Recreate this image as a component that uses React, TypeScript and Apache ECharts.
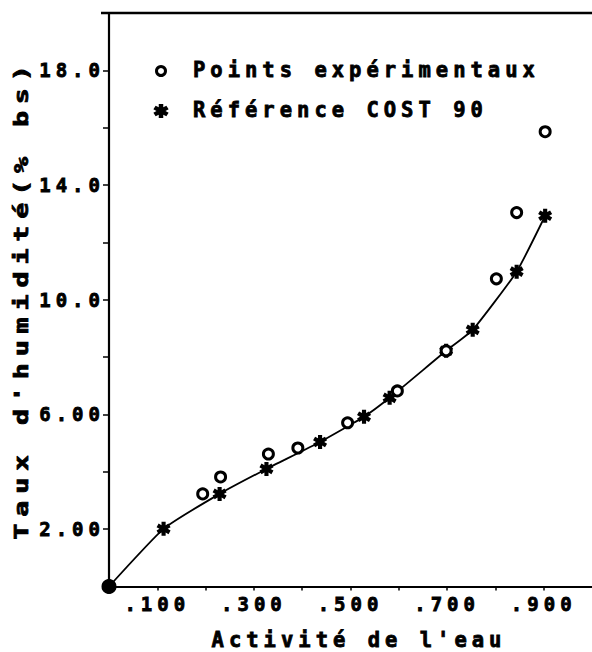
import React, { useEffect, useRef } from "react";
import * as echarts from "echarts";

// Experimental points (water activity, moisture % dry basis)
const expX = [0, 0.194, 0.231, 0.330, 0.391, 0.494, 0.597, 0.698, 0.802, 0.844, 0.903];
const expY = [0, 3.23, 3.82, 4.62, 4.83, 5.71, 6.82, 8.22, 10.73, 13.04, 15.86];

// COST 90 reference points
const refX = [0, 0.113, 0.229, 0.326, 0.437, 0.528, 0.581, 0.698, 0.753, 0.844, 0.903];
const refY = [0, 2.01, 3.23, 4.10, 5.04, 5.92, 6.58, 8.22, 8.95, 10.98, 12.93];

// Tick labels
const xLabelValues = [0.1, 0.3, 0.5, 0.7, 0.9];
const xLabelTexts = [".100", ".300", ".500", ".700", ".900"];
const yLabelValues = [2, 6, 10, 14, 18];
const yLabelTexts = ["2.00", "6.00", "10.0", "14.0", "18.0"];

const legendExp = "Points expérimentaux";
const legendRef = "Référence COST 90";
const xName = "Activité de l'eau";
const yName = "Taux d'humidité(% bs)";

const FONT = "'DejaVu Sans Mono', 'Liberation Mono', monospace";

function asteriskPoints(arms: number, L: number, w: number): number[][] {
  const pts: number[][] = [];
  const half = Math.PI / arms;
  const rIn = w / Math.sin(half);
  for (let k = 0; k < arms; k++) {
    const t = Math.PI / 2 + (k * 2 * Math.PI) / arms;
    const dx = Math.cos(t), dy = Math.sin(t);
    const px = -Math.sin(t), py = Math.cos(t);
    pts.push([L * dx - w * px, L * dy - w * py]);
    pts.push([L * dx + w * px, L * dy + w * py]);
    pts.push([rIn * Math.cos(t + half), rIn * Math.sin(t + half)]);
  }
  return pts.map(([x, y]) => [x, -y]);
}

const astPts = asteriskPoints(6, 1, 0.3);
const astPath =
  "path://" +
  astPts.map((p, i) => (i === 0 ? "M" : "L") + p[0].toFixed(3) + " " + p[1].toFixed(3)).join(" ") +
  " Z";

function labelFor(v: number, vals: number[], texts: string[]) {
  for (let i = 0; i < vals.length; i++) {
    if (Math.abs(v - vals[i]) < 1e-6) return texts[i];
  }
  return "";
}

const textBase = {
  fontFamily: FONT,
  fontWeight: "bold",
  fill: "#000",
  stroke: "#000",
  lineWidth: 0.8,
  verticalAlign: "middle",
};

export default function App() {
  const ref = useRef<HTMLDivElement>(null);
  useEffect(() => {
    if (!ref.current) return;
    const chart = echarts.init(ref.current, null, { renderer: "svg" });
    const refData = refX.map((x, i) => [x, refY[i]]);
    const expData = expX.map((x, i) =>
      i === 0
        ? { value: [x, expY[i]], symbolSize: 12, itemStyle: { color: "#000", borderColor: "#000" } }
        : { value: [x, expY[i]] }
    );
    const axisLabelBase = {
      color: "#000",
      fontFamily: FONT,
      fontWeight: "bold",
      fontSize: 19,
      textBorderColor: "#000",
      textBorderWidth: 0.8,
    };
    chart.setOption({
      animation: false,
      backgroundColor: "#fff",
      grid: { left: 109, top: 13, right: -11, bottom: 65.5, show: false },
      xAxis: {
        type: "value",
        min: 0,
        max: 1,
        interval: 0.1,
        axisLine: { show: true, onZero: false, lineStyle: { color: "#000", width: 2.2 } },
        axisTick: { show: true, inside: false, length: 4, lineStyle: { color: "#000", width: 1.5 } },
        splitLine: { show: false },
        axisLabel: {
          ...axisLabelBase,
          formatter: (v: number) => labelFor(v, xLabelValues, xLabelTexts),
          margin: 8,
          showMaxLabel: false,
        },
      },
      yAxis: {
        type: "value",
        min: 0,
        max: 20,
        interval: 2,
        axisLine: { show: true, onZero: false, lineStyle: { color: "#000", width: 2.2 } },
        axisTick: { show: true, inside: false, length: 6, lineStyle: { color: "#000", width: 1.5 } },
        splitLine: { show: false },
        axisLabel: {
          ...axisLabelBase,
          formatter: (v: number) => labelFor(v, yLabelValues, yLabelTexts),
          margin: 4,
        },
      },
      series: [
        {
          name: legendRef,
          type: "line",
          data: refData,
          smooth: 0.15,
          symbol: astPath,
          symbolSize: 14,
          clip: false,
          itemStyle: { color: "#000" },
          lineStyle: { color: "#000", width: 1.8 },
          z: 2,
        },
        {
          name: legendExp,
          type: "scatter",
          data: expData,
          symbol: "circle",
          symbolSize: 10,
          clip: false,
          itemStyle: { color: "#fff", borderColor: "#000", borderWidth: 3, opacity: 1 },
          z: 3,
        },
      ],
      graphic: [
        {
          type: "line",
          shape: { x1: 101, y1: 13, x2: 592, y2: 13 },
          style: { stroke: "#000", lineWidth: 2.5 },
        },
        {
          type: "circle",
          shape: { cx: 161, cy: 71, r: 4.5 },
          style: { fill: "#fff", stroke: "#000", lineWidth: 3 },
        },
        {
          type: "polygon",
          x: 161,
          y: 111,
          scaleX: 7.5,
          scaleY: 7,
          shape: { points: astPts },
          style: { fill: "#000" },
        },
        {
          type: "text",
          x: 193,
          y: 70,
          style: { ...textBase, text: legendExp, fontSize: 20.5, align: "left" },
        },
        {
          type: "text",
          x: 193,
          y: 110,
          style: { ...textBase, text: legendRef, fontSize: 20.5, align: "left" },
        },
        {
          type: "text",
          x: 359,
          y: 640,
          style: { ...textBase, text: xName, fontSize: 20.5, align: "center" },
        },
        {
          type: "text",
          x: 21,
          y: 299,
          rotation: Math.PI / 2,
          scaleX: 1.37,
          style: { ...textBase, text: yName, fontSize: 19.5, align: "center" },
        },
      ],
    });
    return () => chart.dispose();
  }, []);
  return (
    <div
      ref={ref}
      style={{ position: "absolute", left: 0, top: 0, width: 592, height: 652, letterSpacing: "5px" }}
    />
  );
}
